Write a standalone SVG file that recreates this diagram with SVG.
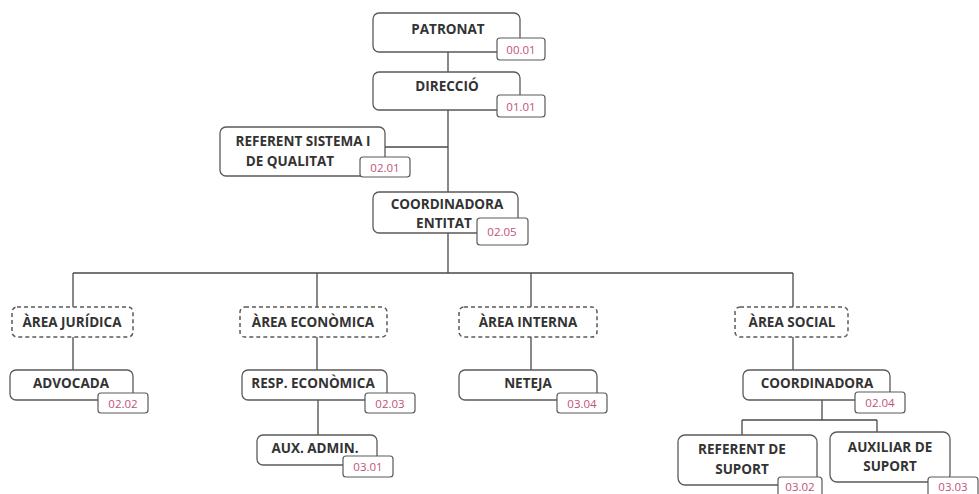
<svg xmlns="http://www.w3.org/2000/svg" width="979" height="494" viewBox="0 0 979 494">
<style>
.box{fill:#fff;stroke:#5a5a5a;stroke-width:1.3}
.dash{fill:#fff;stroke:#5a5a5a;stroke-width:1.5;stroke-dasharray:4 3}
.code{fill:#fff;stroke:#5a5a5a;stroke-width:1.2}
.t{font-family:"Open Sans","Liberation Sans",sans-serif;font-weight:700;font-size:13.5px;fill:#333;text-anchor:middle}
.c{font-family:"Open Sans","Liberation Sans",sans-serif;font-size:11.5px;fill:#c2507e;text-anchor:middle}
.ln{stroke:#4a4a4a;stroke-width:1.3;fill:none}
</style>
<rect width="979" height="494" fill="#fff"/>
<g id="connectors">
<path class="ln" d="M448 52V72M448 110V192M385 147H448M448 233V273M73 273H793M73 273V307M317 273V307M531 273V307M793 273V307M73 337V370M317 337V370M531 337V370M793 337V370M318 400V435M822 400V420M742 420H877M742 420V435M877 420V432"/>
</g>
<g id="patronat">
<rect class="box" x="373" y="13" width="147" height="39" rx="6"/>
<text class="t" x="448" y="34">PATRONAT</text>
<rect class="code" x="497" y="38" width="48" height="22" rx="3"/>
<text class="c" x="521" y="54">00.01</text>
</g>
<g id="direccio">
<rect class="box" x="373" y="72" width="147" height="38" rx="6"/>
<text class="t" x="447" y="91">DIRECCIÓ</text>
<rect class="code" x="497" y="95" width="48" height="22" rx="3"/>
<text class="c" x="521" y="111">01.01</text>
</g>
<g id="referent-sistema">
<rect class="box" x="220" y="127" width="165" height="49" rx="6"/>
<text class="t" x="303" y="146">REFERENT SISTEMA I</text>
<text class="t" x="290" y="166">DE QUALITAT</text>
<rect class="code" x="360" y="157" width="50" height="20" rx="3"/>
<text class="c" x="385" y="171.5">02.01</text>
</g>
<g id="coordinadora-entitat">
<rect class="box" x="373" y="192" width="145" height="41" rx="6"/>
<text class="t" x="447" y="209">COORDINADORA</text>
<text class="t" x="444" y="228">ENTITAT</text>
<rect class="code" x="477" y="218" width="51" height="27" rx="3"/>
<text class="c" x="502" y="236">02.05</text>
</g>
<g id="area-juridica">
<rect class="dash" x="12" y="307" width="121" height="30" rx="5"/>
<text class="t" x="72" y="327">ÀREA JURÍDICA</text>
</g>
<g id="area-economica">
<rect class="dash" x="240" y="307" width="147" height="30" rx="5"/>
<text class="t" x="313" y="327">ÀREA ECONÒMICA</text>
</g>
<g id="area-interna">
<rect class="dash" x="459" y="307" width="138" height="30" rx="5"/>
<text class="t" x="528" y="327">ÀREA INTERNA</text>
</g>
<g id="area-social">
<rect class="dash" x="735" y="307" width="113" height="30" rx="5"/>
<text class="t" x="792" y="327">ÀREA SOCIAL</text>
</g>
<g id="advocada">
<rect class="box" x="10" y="370" width="123" height="30" rx="6"/>
<text class="t" x="71" y="388">ADVOCADA</text>
<rect class="code" x="98" y="393" width="50" height="20" rx="3"/>
<text class="c" x="123" y="407.5">02.02</text>
</g>
<g id="resp-economica">
<rect class="box" x="242" y="370" width="145" height="30" rx="6"/>
<text class="t" x="313" y="388">RESP. ECONÒMICA</text>
<rect class="code" x="365" y="393" width="50" height="20" rx="3"/>
<text class="c" x="390" y="407.5">02.03</text>
</g>
<g id="aux-admin">
<rect class="box" x="257" y="435" width="120" height="30" rx="6"/>
<text class="t" x="315" y="453">AUX. ADMIN.</text>
<rect class="code" x="343" y="456" width="50" height="21" rx="3"/>
<text class="c" x="368" y="471">03.01</text>
</g>
<g id="neteja">
<rect class="box" x="459" y="370" width="138" height="30" rx="6"/>
<text class="t" x="528" y="388">NETEJA</text>
<rect class="code" x="557" y="393" width="50" height="20" rx="3"/>
<text class="c" x="582" y="407.5">03.04</text>
</g>
<g id="coordinadora">
<rect class="box" x="743" y="370" width="147" height="30" rx="6"/>
<text class="t" x="817" y="388">COORDINADORA</text>
<rect class="code" x="855" y="392" width="50" height="21" rx="3"/>
<text class="c" x="880" y="407">02.04</text>
</g>
<g id="referent-suport">
<rect class="box" x="678" y="435" width="139" height="50" rx="7"/>
<text class="t" x="742" y="454">REFERENT DE</text>
<text class="t" x="742" y="474">SUPORT</text>
<rect class="code" x="778" y="477" width="44" height="20" rx="3"/>
<text class="c" x="800" y="491">03.02</text>
</g>
<g id="auxiliar-suport">
<rect class="box" x="830" y="432" width="120" height="50" rx="7"/>
<text class="t" x="890" y="452">AUXILIAR DE</text>
<text class="t" x="890" y="471">SUPORT</text>
<rect class="code" x="928" y="477" width="50" height="20" rx="3"/>
<text class="c" x="953" y="491">03.03</text>
</g>
</svg>
